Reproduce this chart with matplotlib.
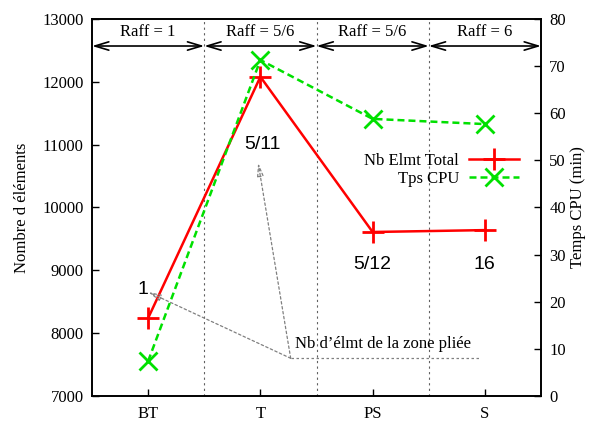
import matplotlib.pyplot as plt
import numpy as np

plt.rcParams['font.family'] = ['Liberation Serif', 'DejaVu Serif']

# données
cas = ['BT', 'T', 'PS', 'S']
nb_elmt = [8240, 12080, 9610, 9640]
tps_cpu = [7.4, 71.3, 58.8, 57.7]
raff = ['Raff = 1', 'Raff = 5/6', 'Raff = 5/6', 'Raff = 6']
nb_plie = ['1', '5/11', '5/12', '16']

x = np.arange(len(cas))
fs = 12

fig = plt.figure(figsize=(5.96, 4.21), dpi=100)
ax = fig.add_axes([0.1544, 0.0594, 0.7533, 0.8955])
ax2 = ax.twinx()

l1, = ax.plot(x, nb_elmt, '-', color='#ff0000', lw=1.8, marker='+', ms=16, mew=2,
              label='Nb Elmt Total', zorder=3)
l2, = ax2.plot(x, tps_cpu, '--', color='#00e000', lw=1.8, marker='x', ms=13, mew=2,
               dashes=(2.8, 1.6), label='Tps CPU', zorder=3)

ax.set_xlim(-0.5, len(cas) - 0.5)
ax.set_ylim(7000, 13000)
ax2.set_ylim(0, 80)
ax.set_xticks(x)
ax.set_xticklabels(cas)
ax.set_yticks(np.arange(7000, 13001, 1000))
ax2.set_yticks(np.arange(0, 81, 10))

for a in (ax, ax2):
    a.tick_params(direction='in', length=5, width=1, labelsize=fs, pad=6)
    for s in a.spines.values():
        s.set_linewidth(1.2)
ax.tick_params(axis='x', pad=7)

ax.set_ylabel('Nombre d éléments', fontsize=fs, labelpad=9)
ax2.set_ylabel('Temps CPU (min)', fontsize=fs, labelpad=3)

# séparations entre les cas
for xs in x[:-1] + 0.5:
    ax.axvline(xs, color='#606060', ls=(0, (2, 3)), lw=0.8, zorder=1)

# flèches de raffinement
y_arrow = 12570
for i, lab in enumerate(raff):
    ax.annotate('', xy=(i - 0.5, y_arrow), xytext=(i + 0.5, y_arrow),
                arrowprops=dict(arrowstyle='<->,head_length=1.0,head_width=0.3',
                                color='black', lw=1.2, shrinkA=0, shrinkB=0))
    ax.text(i, 12800, lab, ha='center', va='center', fontsize=fs)

# nombre d'éléments dans la zone pliée
lab_pos = [(-0.045, 8690), (1.02, 11010), (2.0, 9085), (3.0, 9085)]
for (px, py), lab in zip(lab_pos, nb_plie):
    ax.text(px, py, lab, ha='center', va='center', fontsize=14,
            family='Liberation Sans')

gray = '#808080'
src = (1.27, 7600)
ax.plot([src[0], 2.96], [src[1], src[1]], color=gray, ls=(0, (2, 2)), lw=0.9)
for tip in [(0.0, 8655), (0.98, 10710)]:
    ax.annotate('', xy=tip, xytext=src,
                arrowprops=dict(arrowstyle='-|>,head_length=0.8,head_width=0.2',
                                color=gray, lw=0.9, ls=(0, (2, 2)),
                                shrinkA=0, shrinkB=0, fill=False))
ax.text(1.31, 7700, 'Nb d’élmt de la zone pliée', fontsize=fs, va='bottom')

ax.legend(handles=[l1, l2], loc='center right', bbox_to_anchor=(0.97, 0.6),
          frameon=False, markerfirst=False, fontsize=fs, handlelength=3.0,
          handletextpad=0.6, labelspacing=0.1, borderpad=0)

fig.savefig('out.png', dpi=100)
